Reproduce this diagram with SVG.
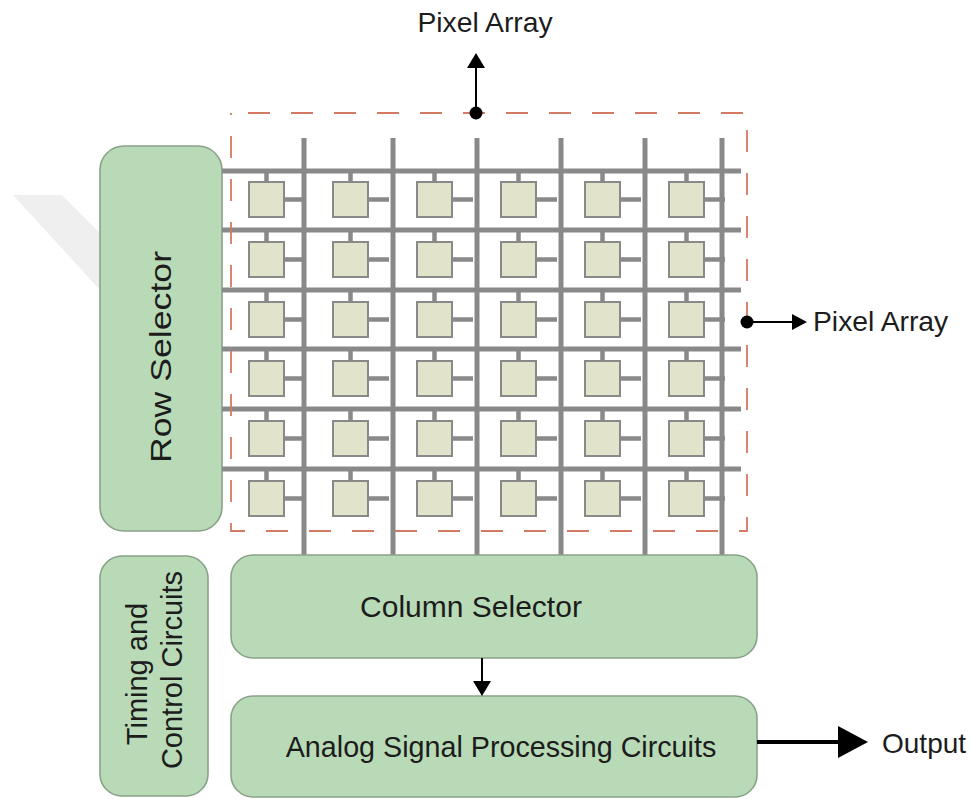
<svg xmlns="http://www.w3.org/2000/svg" width="970" height="799" viewBox="0 0 970 799">
  <defs>
    <style>
      .block { fill: #b9dab6; stroke: #8aa289; stroke-width: 1.6; }
      .lbl { font-family: "Liberation Sans", Arial, sans-serif; fill: #1c1c1c; }
      .bus { stroke: #898989; stroke-width: 5; fill: none; }
      .stub { stroke: #898989; stroke-width: 4.5; fill: none; }
      .cell { fill: #e1e4cb; stroke: #898989; stroke-width: 2; }
      .frame { fill: none; stroke: #d27a63; stroke-width: 1.8; stroke-dasharray: 22 21; stroke-dashoffset: 26; }
      .wire { stroke: #000; stroke-width: 2; fill: none; }
    </style>
    <!-- one pixel: photosite box with its row and column taps -->
    <g id="px">
      <line class="stub" x1="17.5" y1="-12" x2="17.5" y2="0"/>
      <line class="stub" x1="35" y1="17.5" x2="56" y2="17.5"/>
      <rect class="cell" x="0" y="0" width="35" height="35"/>
    </g>
  </defs>

  <rect width="970" height="799" fill="#ffffff"/>

  <!-- faint background mark -->
  <polygon points="13,195 62,195 100,233 100,290" fill="#efefef"/>

  <g id="row-selector">
    <rect class="block" x="100" y="146" width="122" height="385" rx="24"/>
    <text class="lbl" font-size="30" text-anchor="middle" textLength="212" lengthAdjust="spacingAndGlyphs" transform="translate(171 357) rotate(-90)">Row Selector</text>
  </g>

  <g id="pixel-array">
    <!-- column buses -->
    <g class="bus">
      <line x1="304" y1="138" x2="304" y2="556"/>
      <line x1="393" y1="138" x2="393" y2="556"/>
      <line x1="477" y1="138" x2="477" y2="556"/>
      <line x1="561" y1="138" x2="561" y2="556"/>
      <line x1="645" y1="138" x2="645" y2="556"/>
      <line x1="722" y1="138" x2="722" y2="556"/>
    </g>
    <!-- row buses -->
    <g class="bus">
      <line x1="222" y1="171" x2="741" y2="171"/>
      <line x1="222" y1="230" x2="741" y2="230"/>
      <line x1="222" y1="290" x2="741" y2="290"/>
      <line x1="222" y1="349" x2="741" y2="349"/>
      <line x1="222" y1="409" x2="741" y2="409"/>
      <line x1="222" y1="469" x2="741" y2="469"/>
    </g>
    <!-- pixels, rows of six -->
    <g>
      <use href="#px" x="249" y="182"/><use href="#px" x="333" y="182"/><use href="#px" x="417" y="182"/><use href="#px" x="501" y="182"/><use href="#px" x="585" y="182"/><use href="#px" x="669" y="182"/>
      <use href="#px" x="249" y="242"/><use href="#px" x="333" y="242"/><use href="#px" x="417" y="242"/><use href="#px" x="501" y="242"/><use href="#px" x="585" y="242"/><use href="#px" x="669" y="242"/>
      <use href="#px" x="249" y="302"/><use href="#px" x="333" y="302"/><use href="#px" x="417" y="302"/><use href="#px" x="501" y="302"/><use href="#px" x="585" y="302"/><use href="#px" x="669" y="302"/>
      <use href="#px" x="249" y="361"/><use href="#px" x="333" y="361"/><use href="#px" x="417" y="361"/><use href="#px" x="501" y="361"/><use href="#px" x="585" y="361"/><use href="#px" x="669" y="361"/>
      <use href="#px" x="249" y="421"/><use href="#px" x="333" y="421"/><use href="#px" x="417" y="421"/><use href="#px" x="501" y="421"/><use href="#px" x="585" y="421"/><use href="#px" x="669" y="421"/>
      <use href="#px" x="249" y="481"/><use href="#px" x="333" y="481"/><use href="#px" x="417" y="481"/><use href="#px" x="501" y="481"/><use href="#px" x="585" y="481"/><use href="#px" x="669" y="481"/>
    </g>
    <rect class="frame" x="231" y="113" width="516" height="418"/>
  </g>

  <g id="timing-control">
    <rect class="block" x="100" y="556" width="108" height="240" rx="22"/>
    <text class="lbl" font-size="29" text-anchor="middle" transform="translate(147 674) rotate(-90)">Timing and</text>
    <text class="lbl" font-size="29" text-anchor="middle" transform="translate(182 670) rotate(-90)">Control Circuits</text>
  </g>

  <g id="column-selector">
    <rect class="block" x="231" y="555" width="526" height="103" rx="22"/>
    <text class="lbl" font-size="30" x="471" y="617" text-anchor="middle">Column Selector</text>
  </g>

  <g id="analog-processing">
    <rect class="block" x="231" y="696" width="526" height="101" rx="22"/>
    <text class="lbl" font-size="28.7" x="501" y="757" text-anchor="middle">Analog Signal Processing Circuits</text>
  </g>

  <g id="labels">
    <text class="lbl" font-size="28.3" x="485" y="32" text-anchor="middle">Pixel Array</text>
    <text class="lbl" font-size="28.3" x="813" y="331">Pixel Array</text>
    <text class="lbl" font-size="28" x="882" y="753">Output</text>
  </g>

  <g id="connectors">
    <!-- array callout, upward -->
    <circle cx="476" cy="113" r="6.5" fill="#000"/>
    <line class="wire" x1="476" y1="113" x2="476" y2="67"/>
    <polygon points="467,68 485,68 476,53" fill="#000"/>
    <!-- array callout, rightward -->
    <circle cx="747" cy="322" r="6.5" fill="#000"/>
    <line class="wire" x1="747" y1="322" x2="793" y2="322"/>
    <polygon points="792,314 792,330 807,322" fill="#000"/>
    <!-- column selector to processing -->
    <line class="wire" x1="482" y1="658" x2="482" y2="682"/>
    <polygon points="473,681 491,681 482,696" fill="#000"/>
    <!-- processing output -->
    <line x1="757" y1="742" x2="840" y2="742" stroke="#000" stroke-width="4"/>
    <polygon points="838,726 838,758 868,742" fill="#000"/>
  </g>
</svg>
